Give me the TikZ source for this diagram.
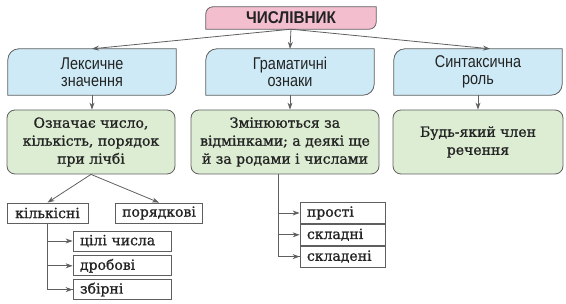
\documentclass[tikz,border=0pt]{standalone}
\usepackage{fontspec}
\setmainfont{DejaVu Serif}[FakeBold=1]
\newfontfamily\capfont{Liberation Sans}[FakeStretch=0.85]
\newfontfamily\headfont{Liberation Sans}[FakeStretch=0.9]
\usetikzlibrary{arrows.meta,positioning,backgrounds}
\definecolor{titlepink}{RGB}{243,190,206}
\definecolor{capblue}{RGB}{205,234,246}
\definecolor{meangreen}{RGB}{221,237,211}
\definecolor{edgegray}{RGB}{95,95,95}
\definecolor{inkgray}{RGB}{35,35,35}

\begin{document}
\begin{tikzpicture}[x=1pt,y=-1pt,
    headbox/.style={font=\headfont\bfseries\fontsize{17}{19}\selectfont,
                 minimum width=170pt,minimum height=22pt,inner sep=0pt,text=inkgray},
    capbox/.style={font=\capfont\fontsize{17}{17}\selectfont,align=center,
                minimum width=168pt,minimum height=46pt,inner sep=0pt,text=inkgray},
    meanbox/.style={draw=edgegray,fill=meangreen,rounded corners=8pt,line width=0.8pt,
                 font=\fontsize{14}{18}\selectfont,align=center,
                 minimum height=64pt,inner sep=0pt,text=inkgray},
    kindbox/.style={draw=edgegray,fill=white,line width=0.8pt,
                 font=\fontsize{14}{16}\selectfont,
                 minimum height=20pt,inner ysep=0pt,inner xsep=7pt,text=inkgray},
    wire/.style={draw=edgegray,line width=0.8pt},
    wirearrow/.style={wire,-{Stealth[length=7pt,width=5pt]}}]
  \useasboundingbox (0,0) rectangle (566,304);

  % top of the tree
  \node[headbox] (num) at (291,18) {ЧИСЛІВНИК};
  \node[capbox] (lex)  at (92,72)  {Лексичне\\значення};
  \node[capbox] (gram) at (290,72) {Граматичні\\ознаки};
  \node[capbox] (synt) at (478,72) {Синтаксична\\роль};

  % green boxes
  \node[meanbox,minimum width=168pt] (sense) at (91,142)  {Означає число,\\кількість, порядок\\при лічбі};
  \node[meanbox,minimum width=188pt] (forms) at (285,142) {Змінюються за\\відмінками; а деякі ще\\й за родами і числами};
  \node[meanbox,minimum width=170pt] (role)  at (478,142) {Будь-який член\\речення};

  % small boxes
  \node[kindbox,minimum width=81pt] (card) at (47.5,213) {кількісні};
  \node[kindbox,minimum width=86pt] (ord)  at (159,213)  {порядкові};
  \node[kindbox,text width=84pt,align=left] (whole) at (122,241) {цілі числа};
  \node[kindbox,text width=84pt,align=left,below=4pt of whole] (frac) {дробові};
  \node[kindbox,text width=84pt,align=left,below=3pt of frac]  (coll) {збірні};
  \node[kindbox,text width=71pt,align=left,minimum height=21pt] (simple) at (342.5,213) {прості};
  \node[kindbox,text width=71pt,align=left,minimum height=21pt,below=0pt of simple] (cmplx) {складні};
  \node[kindbox,text width=71pt,align=left,minimum height=21pt,below=0pt of cmplx]  (compd) {складені};

  % outlines with two rounded corners
  \begin{scope}[on background layer]
    \foreach \n/\c/\r in {num/titlepink/7pt,lex/capblue/11pt,gram/capblue/11pt,synt/capblue/11pt}
      \draw[wire,fill=\c] (\n.west) [rounded corners=\r] -- (\n.north west) -- (\n.north)
        [sharp corners] -- (\n.north east) -- (\n.east)
        [rounded corners=\r] -- (\n.south east) -- (\n.south)
        [sharp corners] -- (\n.south west) -- cycle;
  \end{scope}

  % connectors
  \draw[wirearrow] (num.south) -- (lex.north);
  \draw[wirearrow] (num.south) -- (gram.north);
  \draw[wirearrow] (num.south) -- ([xshift=12pt]synt.north);
  \foreach \a/\b in {lex/sense,gram/forms,synt/role}
    \draw[wirearrow] (\a.south) -- (\a.south |- \b.north);
  \draw[wirearrow] (sense.south) -- (card.north);
  \draw[wirearrow] (sense.south) -- (ord.north);
  \draw[wire] (card.south) |- (coll.west);
  \foreach \b in {whole,frac,coll}
    \draw[wirearrow] (card.south |- \b.west) -- (\b.west);
  \coordinate (fork) at ([xshift=-7pt]forms.south);
  \draw[wire] (fork) |- (compd.west);
  \foreach \b in {simple,cmplx,compd}
    \draw[wirearrow] (fork |- \b.west) -- (\b.west);
\end{tikzpicture}
\end{document}
